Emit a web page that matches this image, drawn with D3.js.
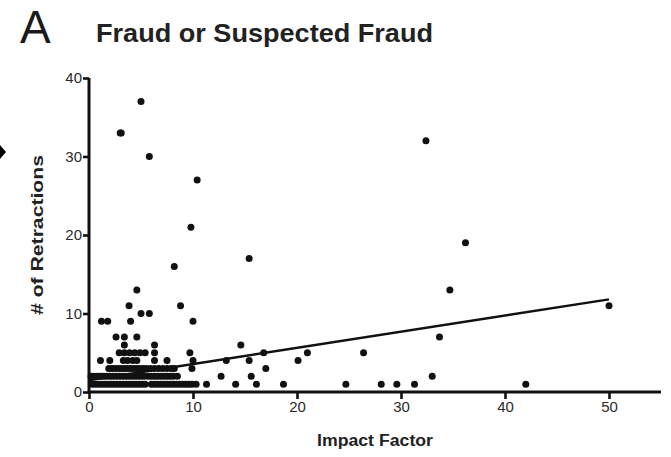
<!DOCTYPE html>
<html>
<head>
<meta charset="utf-8">
<script src="https://cdn.jsdelivr.net/npm/d3@7"></script>
<style>
  body { margin: 0; background: #fff; }
  svg { display: block; font-family: "Liberation Sans", Arial, sans-serif; }
</style>
</head>
<body>
<svg id="chart" width="671" height="457"></svg>
<script>
// impact factor / # of retractions
const row1 = [0.3, 0.6, 0.9, 1.2, 1.5, 1.8, 2.1, 2.4, 2.7, 3.0, 3.3, 3.6, 3.9, 4.2, 4.5, 4.8, 5.1, 5.4,
              6.0, 6.3, 6.6, 6.9, 7.2, 7.5, 7.8, 8.1, 8.4, 8.7, 9.0, 9.3, 9.6, 9.9, 10.3,
              11.3, 14.1, 16.1, 18.7, 24.7, 28.1, 29.6, 31.3, 42.0];
const row2 = [0.2, 0.5, 0.8, 1.1, 1.4, 1.7, 2.0, 2.3, 2.6, 2.9, 3.2, 3.5, 3.8, 4.1, 4.4, 4.7, 5.0, 5.3,
              5.7, 6.0, 6.3, 6.6, 6.9, 7.2, 7.5, 7.8, 8.1, 8.5, 12.7, 15.6, 33.0];
const row3 = [1.9, 2.2, 2.5, 2.8, 3.1, 3.4, 3.7, 4.0, 4.3, 4.6, 4.9, 5.2, 5.5, 5.9, 6.3, 6.7, 7.1,
              7.5, 7.9, 8.2, 9.9, 17.0];
const row4 = [1.1, 2.0, 3.3, 3.7, 4.2, 4.6, 6.3, 7.5, 10.0, 13.2, 15.4, 20.1];
const row5 = [2.9, 3.4, 3.9, 4.4, 4.9, 5.4, 6.3, 9.7, 16.8, 21.0, 26.4];
const others = [
  [3.4, 6], [6.3, 6], [14.6, 6],
  [2.6, 7], [3.4, 7], [4.6, 7], [33.7, 7],
  [1.2, 9], [1.8, 9], [4.0, 9], [10.0, 9],
  [5.0, 10], [5.8, 10],
  [3.85, 11], [8.8, 11], [50.0, 11],
  [4.6, 13], [34.7, 13],
  [8.2, 16], [15.4, 17], [36.2, 19], [9.8, 21], [10.4, 27],
  [5.8, 30], [32.4, 32], [3.0, 33], [3.1, 33], [5.0, 37]
];
const xTicks = [0, 10, 20, 30, 40, 50];
const yTicks = [0, 10, 20, 30, 40];
const fitLine = [[0, 1.5], [50, 11.8]];

const points = [
  ...row1.map(x => [x, 1]),
  ...row2.map(x => [x, 2]),
  ...row3.map(x => [x, 3]),
  ...row4.map(x => [x, 4]),
  ...row5.map(x => [x, 5]),
  ...others
];

const svg = d3.select('#chart');
const x = d3.scaleLinear().domain([0, 55]).range([89, 661]);
const y = d3.scaleLinear().domain([0, 40]).range([392, 78]);

// headings
svg.append('text').text('A')
  .attr('x', 20).attr('y', 43)
  .style('font-size', '46px').style('fill', '#1a1a1a');
svg.append('text').text('Fraud or Suspected Fraud')
  .attr('x', 96).attr('y', 42)
  .attr('textLength', 337).attr('lengthAdjust', 'spacingAndGlyphs')
  .style('font-size', '25px').style('font-weight', 'bold').style('fill', '#222');

// stray arrow mark at the left edge
svg.append('path').attr('d', 'M0,145 L6,152 L0,159 Z').style('fill', '#000');

// axes
const xAxis = svg.append('g').attr('transform', 'translate(0,392)')
  .call(d3.axisBottom(x).tickValues(xTicks).tickSize(7).tickPadding(2));
const yAxis = svg.append('g').attr('transform', 'translate(89,0)')
  .call(d3.axisLeft(y).tickValues(yTicks).tickSize(6).tickPadding(1));

[xAxis, yAxis].forEach(g => {
  g.select('.domain').style('stroke', '#111').style('stroke-width', 3);
  g.selectAll('.tick line').style('stroke', '#111').style('stroke-width', 2.6);
  g.selectAll('.tick text').style('font-size', '15px').style('fill', '#2a2a2a')
    .style('font-family', '"Liberation Sans Narrow", "Liberation Sans", Arial, sans-serif');
});
xAxis.select('.domain').attr('d', `M${x(0)},0H${x(55)}`);
yAxis.select('.domain').attr('d', `M0,${y(40)}V${y(0) + 2}`);

svg.append('text').text('Impact Factor')
  .attr('x', 375).attr('y', 446).attr('text-anchor', 'middle')
  .attr('textLength', 116).attr('lengthAdjust', 'spacingAndGlyphs')
  .style('font-size', '16px').style('font-weight', 'bold').style('fill', '#222');
svg.append('text').text('# of Retractions')
  .attr('transform', 'translate(43,235) rotate(-90)').attr('text-anchor', 'middle')
  .attr('textLength', 160).attr('lengthAdjust', 'spacingAndGlyphs')
  .style('font-size', '16px').style('font-weight', 'bold').style('fill', '#222');

// regression line
svg.append('path').datum(fitLine)
  .attr('d', d3.line().x(d => x(d[0])).y(d => y(d[1])))
  .style('fill', 'none').style('stroke', '#111').style('stroke-width', 2.5);

// points
svg.append('g').selectAll('circle').data(points).join('circle')
  .attr('cx', d => x(d[0])).attr('cy', d => y(d[1]))
  .attr('r', 3.5).style('fill', '#111');
</script>
</body>
</html>
